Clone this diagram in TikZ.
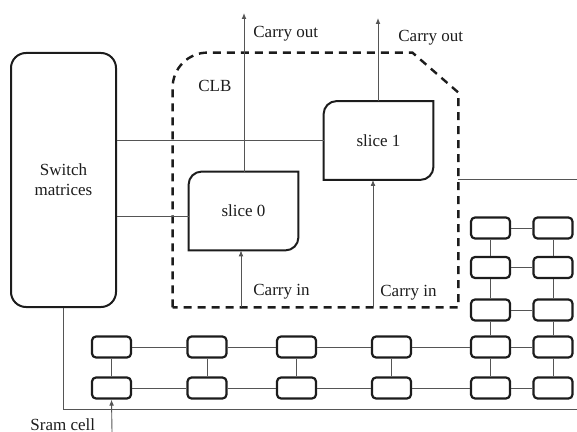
\documentclass[tikz,border=0pt]{standalone}
\usepackage{fontspec}
\setmainfont{Liberation Serif}
\usetikzlibrary{arrows.meta,positioning,calc}
\definecolor{Ink}{HTML}{1C1C1C}
\definecolor{Wire}{HTML}{555555}
\newcommand{\sliceoutline}[1]{\draw[edge] (#1.south west) -- ([yshift=-6.5pt]#1.north west) arc[start angle=180,end angle=90,radius=6.5pt] -- (#1.north east) -- ([yshift=6.5pt]#1.south east) arc[start angle=0,end angle=-90,radius=6.5pt] -- cycle;}
\tikzset{blk/.style={draw=Ink,line width=1pt,rounded corners=7.5pt,minimum width=52.5pt,minimum height=127pt,align=center,font=\fontsize{8.5}{10}\selectfont,text=Ink},edge/.style={draw=Ink,line width=1pt},slot/.style={minimum width=54.5pt,minimum height=39pt,inner sep=0pt,font=\fontsize{8.5}{10}\selectfont,text=Ink},cell/.style={draw=Ink,line width=1.1pt,rounded corners=2pt,minimum width=19.5pt,minimum height=10.5pt,inner sep=0pt},wire/.style={draw=Wire,line width=.45pt},arrowline/.style={wire,-{Latex[length=3pt,width=2.4pt]}},tag/.style={font=\fontsize{8.5}{10}\selectfont,text=Ink,anchor=west,inner sep=0pt}}

\begin{document}
\begin{tikzpicture}[x=.5pt,y=-.5pt]
\useasboundingbox (0,0) rectangle (577,432);
\node[blk] (sw) at (63.5,180) {Switch\\matrices};
\node[minimum width=142.5pt,minimum height=127pt,inner sep=0pt] (clb) at (315.5,180) {};
\draw[draw=Ink,line width=1.2pt,dash pattern=on 4pt off 3pt] (clb.south west) -- ([yshift=-17.5pt]clb.north west) arc[start angle=180,end angle=90,radius=17.5pt] -- ([xshift=-23pt]clb.north east) -- ([yshift=-20pt]clb.north east) -- (clb.south east) -- cycle;
\node[tag] (clbtag) at (198,86) {CLB};
\node[slot] (s0) at (243.5,211) {slice 0};
\node[slot] (s1) at (378.5,140.5) {slice 1};
\sliceoutline{s0}
\sliceoutline{s1}

\coordinate (co0) at (244,13);
\coordinate (co1) at (378,18);
\draw[arrowline] (s0.north -| co0) -- (co0);
\draw[arrowline] (s1.north -| co1) -- (co1);
\node[tag] (out0) at (253,34) {Carry out};
\node[tag] (out1) at (398,38) {Carry out};
\coordinate (ci0) at (241,307);
\coordinate (ci1) at (373,307);
\draw[arrowline] (ci0) -- (ci0 |- s0.south);
\draw[arrowline] (ci1) -- (ci1 |- s1.south);
\node[tag] (in0) at (253,292) {Carry in};
\node[tag] (in1) at (380,293) {Carry in};

\draw[wire] (sw.east |- s1.west) -- (s1.west);
\coordinate (j0) at (189,216);
\draw[wire] (sw.east |- j0) -- (s0.west |- j0);
\coordinate (east) at (577,179);
\draw[wire] (clb.east |- east) -- (east);
\coordinate (bus) at (577,409);
\draw[wire] (sw.south) |- (bus);

\foreach \c/\x in {1/111.5,2/207,3/296.5,4/391.5,5/490.5,6/553}
  \foreach \r/\y in {4/347,5/388}
    \node[cell] (c-\c-\r) at (\x,\y) {};
\foreach \c/\x in {5/490.5,6/553}
  \foreach \r/\y in {1/228,2/267.5,3/310}
    \node[cell] (c-\c-\r) at (\x,\y) {};
\foreach \r in {4,5}
  \foreach \a/\b in {1/2,2/3,3/4,4/5,5/6}
    \draw[wire] (c-\a-\r) -- (c-\b-\r);
\foreach \r in {1,2,3}
  \draw[wire] (c-5-\r) -- (c-6-\r);
\foreach \c in {1,...,4}
  \draw[wire] (c-\c-4) -- (c-\c-5);
\foreach \c in {5,6}
  \foreach \a/\b in {1/2,2/3,3/4,4/5}
    \draw[wire] (c-\c-\a) -- (c-\c-\b);

\coordinate (sram) at (112,432);
\draw[arrowline] (sram) -- (c-1-5.south);
\node[tag] (sramtag) at (30,425) {Sram cell};
\end{tikzpicture}
\end{document}
